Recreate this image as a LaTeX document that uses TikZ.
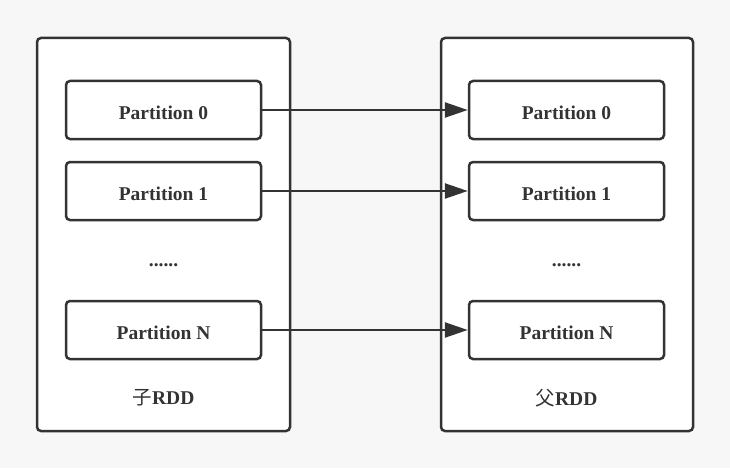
\documentclass[tikz,border=0pt]{standalone}
\usepackage{fontspec}
\setmainfont{Liberation Serif}
\newfontfamily\cjk{Noto Sans CJK SC}
\usetikzlibrary{arrows.meta}
\definecolor{ink}{HTML}{333333}
\definecolor{bgc}{HTML}{F7F7F7}
\tikzset{
  outerbox/.style={draw=ink, fill=white, line width=2.5pt, rounded corners=4pt},
  partbox/.style={draw=ink, fill=white, line width=2.5pt, rounded corners=4pt, minimum width=195pt, minimum height=58pt, font=\fontsize{19.5}{22}\selectfont\bfseries, text=ink, inner sep=0pt, text height=18pt, text depth=0pt},
  lbl/.style={font=\fontsize{19.5}{22}\selectfont\bfseries, text=ink, inner sep=0pt},
  conn/.style={draw=ink, line width=2.5pt, -{Triangle[length=23pt,width=15pt]}}
}
\begin{document}
\begin{tikzpicture}[x=1pt,y=-1pt]
\fill[bgc] (0,0) rectangle (730,468);
\useasboundingbox (0,0) rectangle (730,468);
\draw[outerbox] (37,38) rectangle (290,431);
\draw[outerbox] (441,38) rectangle (693,431);
\node[partbox] (l0) at (163.5,110) {Partition 0};
\node[partbox] (l1) at (163.5,191) {Partition 1};
\node[partbox] (ln) at (163.5,330) {Partition N};
\node[partbox] (r0) at (566.5,110) {Partition 0};
\node[partbox] (r1) at (566.5,191) {Partition 1};
\node[partbox] (rn) at (566.5,330) {Partition N};
\node[lbl] (ld) at (163.5,265) {......};
\node[lbl] (rd) at (566.5,265) {......};
\node[lbl] (lt) at (163.5,398) {{\cjk\mdseries 子}RDD};
\node[lbl] (rt) at (566.5,398) {{\cjk\mdseries 父}RDD};
\draw[conn] (l0.east) -- (r0.west);
\draw[conn] (l1.east) -- (r1.west);
\draw[conn] (ln.east) -- (rn.west);
\end{tikzpicture}
\end{document}
